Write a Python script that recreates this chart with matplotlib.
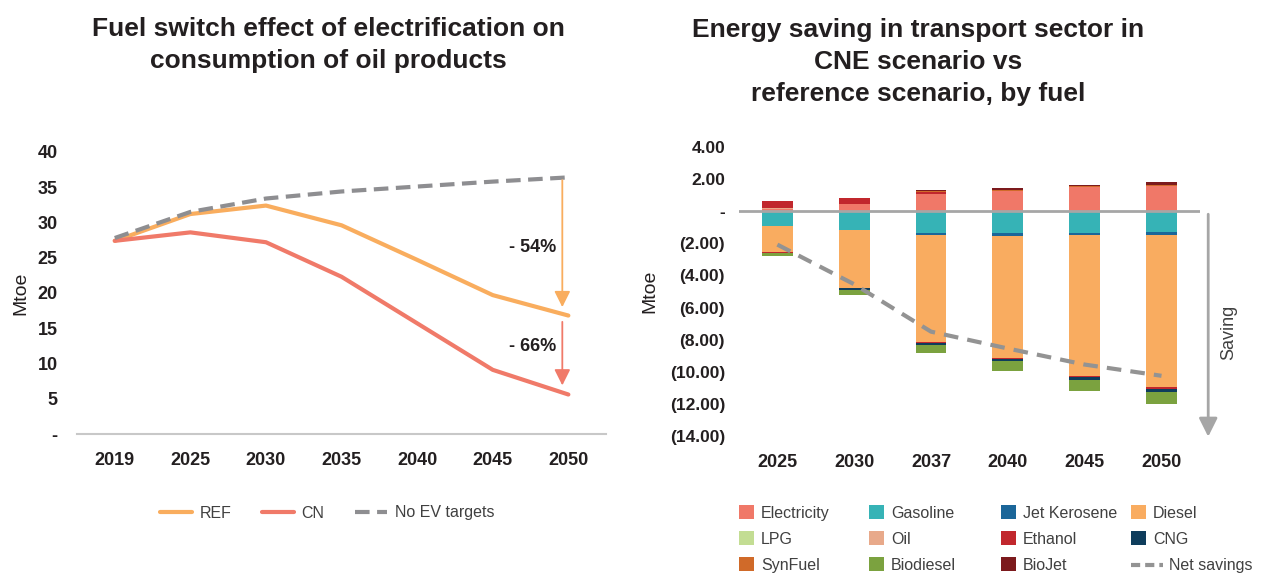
import numpy as np
import matplotlib
matplotlib.use('Agg')
import matplotlib.pyplot as plt
from matplotlib.patches import Patch
from matplotlib.lines import Line2D

plt.rcParams['font.family'] = ['Liberation Sans', 'DejaVu Sans']

# left chart data (Mtoe)
years_left = ['2019', '2025', '2030', '2035', '2040', '2045', '2050']
ref = [27.4, 31.2, 32.4, 29.6, 24.7, 19.7, 16.8]
cn = [27.4, 28.6, 27.2, 22.3, 15.7, 9.1, 5.6]
no_ev = [27.8, 31.5, 33.4, 34.4, 35.1, 35.8, 36.4]

# right chart data (Mtoe), positive and negative parts stacked separately
years_right = ['2025', '2030', '2037', '2040', '2045', '2050']
electricity = [0.12, 0.43, 1.05, 1.23, 1.52, 1.58]
oil = [0.05, 0.0, 0.0, 0.0, 0.0, 0.0]
ethanol_up = [0.49, 0.38, 0.12, 0.0, 0.0, 0.0]
synfuel = [0.0, 0.0, 0.06, 0.10, 0.03, 0.07]
biojet = [0.0, 0.0, 0.07, 0.09, 0.11, 0.14]
gasoline = [-0.90, -1.17, -1.36, -1.38, -1.38, -1.30]
jet_kerosene = [0.0, -0.02, -0.12, -0.16, -0.10, -0.18]
diesel = [-1.65, -3.61, -6.67, -7.59, -8.76, -9.44]
ethanol_down = [-0.06, 0.0, -0.05, -0.07, -0.11, -0.18]
cng = [0.0, -0.13, -0.15, -0.10, -0.15, -0.15]
biodiesel = [-0.15, -0.31, -0.48, -0.63, -0.67, -0.73]
net_savings = [-2.08, -4.55, -7.50, -8.55, -9.55, -10.25]

c_ref = '#F9AD5E'
c_cn = '#F07A69'
c_grey = '#8E8E91'
colors = {
    'Electricity': '#F07868', 'Gasoline': '#36B3B6', 'Jet Kerosene': '#1B6699',
    'Diesel': '#F9AC60', 'LPG': '#C3DD93', 'Oil': '#E8A98A', 'Ethanol': '#C1272D',
    'CNG': '#0E3D5C', 'SynFuel': '#D06A29', 'Biodiesel': '#7BA23F', 'BioJet': '#7C1A1D',
}
txt = '#231F20'

fig = plt.figure(figsize=(12.66, 5.74), dpi=100)

# ---------------- left chart ----------------
ax1 = fig.add_axes([0.0608, 0.2439, 0.418, 0.4913])
x1 = np.arange(len(years_left))
ax1.plot(x1, ref, color=c_ref, lw=3, label='REF', solid_capstyle='round')
ax1.plot(x1, cn, color=c_cn, lw=3, label='CN', solid_capstyle='round')
ax1.plot(x1, no_ev, color=c_grey, lw=3, ls=(0, (3.5, 1.8)), label='No EV targets')
ax1.set_xlim(-0.5, 6.5)
ax1.set_ylim(0, 40)
ax1.set_yticks(range(0, 41, 5))
ax1.set_yticklabels(['-' if v == 0 else str(v) for v in range(0, 41, 5)])
ax1.set_xticks(x1)
ax1.set_xticklabels(years_left)
for s in ['top', 'right', 'left']:
    ax1.spines[s].set_visible(False)
ax1.spines['bottom'].set_color('#C8C8C8')
ax1.spines['bottom'].set_linewidth(1.5)
ax1.tick_params(length=0, labelsize=13, colors=txt, pad=13)
ax1.tick_params(axis='y', pad=14)
for lab in ax1.get_xticklabels() + ax1.get_yticklabels():
    lab.set_fontweight('bold')
ax1.set_ylabel('Mtoe', fontsize=14, color=txt, labelpad=6)

ax_x = 6 - 0.08
ax1.annotate('', xy=(ax_x, 17.6), xytext=(ax_x, no_ev[-1]),
             arrowprops=dict(arrowstyle='-|>', color=c_ref, lw=1.3, mutation_scale=24))
ax1.annotate('', xy=(ax_x, 6.5), xytext=(ax_x, 16.3),
             arrowprops=dict(arrowstyle='-|>', color=c_cn, lw=1.3, mutation_scale=24))
ax1.text(5.22, 26.5, '- 54%', fontsize=13, fontweight='bold', color=txt, va='center')
ax1.text(5.22, 12.4, '- 66%', fontsize=13, fontweight='bold', color=txt, va='center')

fig.text(328 / 1266, 1 - 45 / 574, 'Fuel switch effect of electrification on\nconsumption of oil products',
         ha='center', va='center', fontsize=19, fontweight='bold', color=txt, linespacing=1.42)

fig.legend(handles=ax1.get_lines(), loc='center', bbox_to_anchor=(327 / 1266, 1 - 513 / 574),
           ncol=3, frameon=False, fontsize=11.5, handlelength=2.0, columnspacing=1.9,
           handletextpad=0.5, labelcolor='#404040')

# ---------------- right chart ----------------
ax2 = fig.add_axes([0.5837, 0.2404, 0.3641, 0.5035])
x2 = np.arange(len(years_right))
w = 0.4

pos_layers = [('Electricity', electricity), ('Oil', oil), ('Ethanol', ethanol_up),
              ('SynFuel', synfuel), ('BioJet', biojet)]
neg_layers = [('Gasoline', gasoline), ('Jet Kerosene', jet_kerosene), ('Diesel', diesel),
              ('Ethanol', ethanol_down), ('CNG', cng), ('Biodiesel', biodiesel)]

bottom = np.zeros(len(x2))
for name, vals in pos_layers:
    ax2.bar(x2, vals, w, bottom=bottom, color=colors[name], lw=0)
    bottom = bottom + np.array(vals)
bottom = np.zeros(len(x2))
for name, vals in neg_layers:
    ax2.bar(x2, vals, w, bottom=bottom, color=colors[name], lw=0)
    bottom = bottom + np.array(vals)

ax2.plot(x2, net_savings, color='#939393', lw=3, ls=(0, (3.5, 2.2)), zorder=4)
ax2.axhline(0, color='#A6A6A6', lw=2, zorder=3)

ax2.set_xlim(-0.5, 5.5)
ax2.set_ylim(-14, 4)
yt = list(range(-14, 5, 2))


def fmt(v):
    if v == 0:
        return '-'
    if v < 0:
        return '(%.2f)' % abs(v)
    return '%.2f' % v


ax2.set_yticks(yt)
ax2.set_yticklabels([fmt(v) for v in yt])
ax2.set_xticks(x2)
ax2.set_xticklabels(years_right)
for s in ax2.spines.values():
    s.set_visible(False)
ax2.tick_params(length=0, labelsize=13, colors=txt, pad=13)
ax2.tick_params(axis='y', labelsize=12.5, pad=10)
for lab in ax2.get_xticklabels() + ax2.get_yticklabels():
    lab.set_fontweight('bold')
ax2.set_ylabel('Mtoe', fontsize=14, color=txt, labelpad=8)

# saving arrow on the right
ax2.annotate('', xy=(1.018, -0.012), xycoords='axes fraction', xytext=(1.018, 0.777),
             textcoords='axes fraction',
             arrowprops=dict(arrowstyle='-|>', color='#A6A6A6', lw=2, mutation_scale=28))
ax2.text(1.063, 0.36, 'Saving', transform=ax2.transAxes, rotation=90, fontsize=13,
         color='#404040', ha='center', va='center')

fig.text(918 / 1266, 1 - 62 / 574,
         'Energy saving in transport sector in\nCNE scenario vs\nreference scenario, by fuel',
         ha='center', va='center', fontsize=19, fontweight='bold', color=txt, linespacing=1.42)

# legend: fixed column positions, row-major order
legend_cols = [
    (740, ['Electricity', 'LPG', 'SynFuel']),
    (870, ['Gasoline', 'Oil', 'Biodiesel']),
    (1002, ['Jet Kerosene', 'Ethanol', 'BioJet']),
    (1132, ['Diesel', 'CNG']),
]
for xpx, names in legend_cols:
    handles = [Patch(facecolor=colors[n], edgecolor='none', label=n) for n in names]
    fig.legend(handles=handles, loc='upper left', bbox_to_anchor=(xpx / 1266 - 0.006, 1 - 499 / 574),
               frameon=False, fontsize=11.5, handlelength=0.95, handleheight=0.95,
               handletextpad=0.45, labelspacing=0.66, labelcolor='#404040', borderaxespad=0)
fig.legend(handles=[Line2D([], [], color='#939393', lw=3, ls=(0, (2.2, 1.2)), label='Net savings')],
           loc='upper left', bbox_to_anchor=(1132 / 1266 - 0.006, 1 - 552 / 574),
           frameon=False, fontsize=11.5, handlelength=2.0, handletextpad=0.4,
           labelcolor='#404040', borderaxespad=0)

fig.savefig('out.png', dpi=100)
